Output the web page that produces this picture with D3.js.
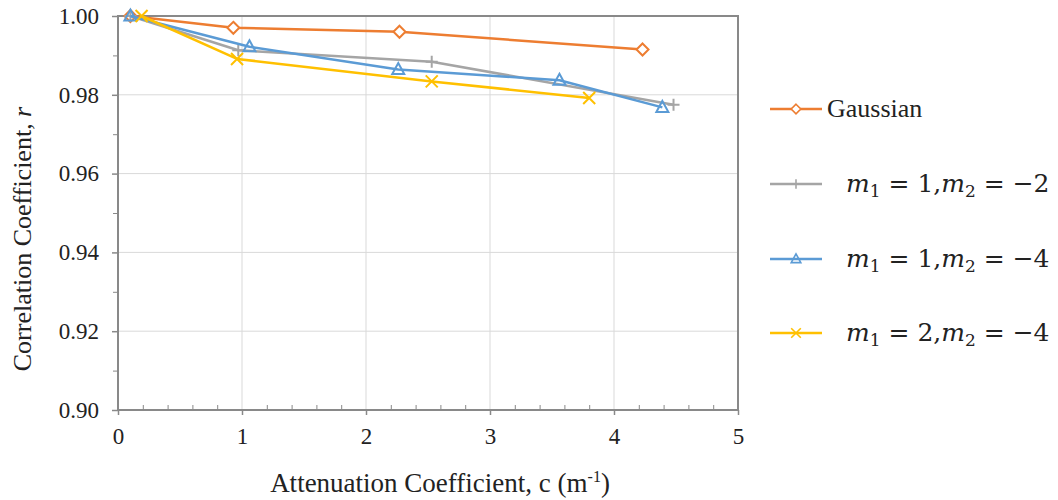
<!DOCTYPE html>
<html>
<head>
<meta charset="utf-8">
<script src="https://cdn.jsdelivr.net/npm/d3@7"></script>
<style>
  body { margin: 0; background: #fff; }
  svg { display: block; }
  text { font-family: "Liberation Serif", "Times New Roman", serif; fill: #222; }
</style>
</head>
<body>
<svg id="chart"></svg>
<script>
// data
var gaussianX = [0.1, 0.93, 2.27, 4.23];
var gaussianY = [1.000, 0.9970, 0.9960, 0.9915];
var m12X = [0.1, 0.97, 2.53, 4.48];
var m12Y = [1.000, 0.9913, 0.9884, 0.9775];
var m14X = [0.1, 1.06, 2.26, 3.56, 4.39];
var m14Y = [1.000, 0.9922, 0.9864, 0.9837, 0.9768];
var m24X = [0.19, 0.96, 2.53, 3.80];
var m24Y = [1.000, 0.9891, 0.9834, 0.9792];

var xTicks = [0, 1, 2, 3, 4, 5];
var yTicks = [0.90, 0.92, 0.94, 0.96, 0.98, 1.00];

var series = [
    {name: "Gaussian", xs: gaussianX, ys: gaussianY, color: "#ED7D31", marker: "diamond", m: null},
    {name: "m1=1,m2=-2", xs: m12X, ys: m12Y, color: "#A5A5A5", marker: "plus", m: ["1", "1", "2", "−2"]},
    {name: "m1=1,m2=-4", xs: m14X, ys: m14Y, color: "#5B9BD5", marker: "triangle", m: ["1", "1", "2", "−4"]},
    {name: "m1=2,m2=-4", xs: m24X, ys: m24Y, color: "#FFC000", marker: "cross", m: ["1", "2", "2", "−4"]}
];

var width = 1058, height = 500;
var svg = d3.select("#chart").attr("width", width).attr("height", height);

var pLeft = 118, pRight = 738, pTop = 16, pBottom = 410;
var x = d3.scaleLinear().domain([0, 5]).range([pLeft, pRight]);
var y = d3.scaleLinear().domain([0.90, 1.00]).range([pBottom, pTop]);

// grid
var grid = svg.append("g");
grid.selectAll(".vg").data(xTicks.slice(1, -1)).enter().append("line")
    .attr("x1", function (d) { return x(d); }).attr("x2", function (d) { return x(d); })
    .attr("y1", pTop).attr("y2", pBottom)
    .attr("stroke", "#d9d9d9").attr("stroke-width", 1);
grid.selectAll(".hg").data(yTicks.slice(1, -1)).enter().append("line")
    .attr("x1", pLeft).attr("x2", pRight)
    .attr("y1", function (d) { return y(d); }).attr("y2", function (d) { return y(d); })
    .attr("stroke", "#d9d9d9").attr("stroke-width", 1);

// frame
svg.append("rect")
    .attr("x", pLeft).attr("y", pTop).attr("width", pRight - pLeft).attr("height", pBottom - pTop)
    .attr("fill", "none").attr("stroke", "#898989").attr("stroke-width", 2);

// x axis: major ticks outward, minor ticks inward
var xAxis = svg.append("g").attr("transform", "translate(0," + pBottom + ")")
    .call(d3.axisBottom(x).tickValues(xTicks).tickFormat(d3.format("d")).tickSize(5).tickPadding(13));
xAxis.select(".domain").remove();
xAxis.selectAll("line").attr("stroke", "#898989").attr("stroke-width", 1.5);
xAxis.selectAll("text").style("font-size", "23px").style("font-family", "Liberation Serif").attr("fill", "#222");

var xMinor = svg.append("g").attr("transform", "translate(0," + pBottom + ")")
    .call(d3.axisTop(x).tickValues(d3.range(0.2, 5, 0.2).filter(function (d) { return Math.abs(d - Math.round(d)) > 0.01; }))
        .tickSize(5).tickFormat(""));
xMinor.select(".domain").remove();
xMinor.selectAll("line").attr("stroke", "#898989").attr("stroke-width", 1);

// y axis
var yAxis = svg.append("g").attr("transform", "translate(" + pLeft + ",0)")
    .call(d3.axisLeft(y).tickValues(yTicks).tickFormat(d3.format(".2f")).tickSize(6).tickPadding(13));
yAxis.select(".domain").remove();
yAxis.selectAll("line").attr("stroke", "#898989").attr("stroke-width", 1.5);
yAxis.selectAll("text").style("font-size", "23px").style("font-family", "Liberation Serif").attr("fill", "#222");

var yMinor = svg.append("g").attr("transform", "translate(" + pLeft + ",0)")
    .call(d3.axisLeft(y).tickValues([0.91, 0.93, 0.95, 0.97, 0.99]).tickSize(5).tickFormat(""));
yMinor.select(".domain").remove();
yMinor.selectAll("line").attr("stroke", "#898989").attr("stroke-width", 1);

// axis titles
svg.append("text")
    .attr("x", (pLeft + pRight) / 2 + 12).attr("y", 492)
    .attr("text-anchor", "middle").style("font-size", "27px")
    .html('Attenuation Coefficient, c (m<tspan dy="-10" font-size="16px">-1</tspan><tspan dy="10">)</tspan>');

svg.append("text")
    .attr("transform", "translate(31,239) rotate(-90)")
    .attr("text-anchor", "middle").style("font-size", "26px")
    .html('Correlation Coefficient, <tspan font-style="italic">r</tspan>');

// markers
function drawMarker(g, type, color) {
    if (type == "diamond") {
        g.append("path").attr("d", "M0,-6L6,0L0,6L-6,0Z")
            .attr("fill", "#fff").attr("stroke", color).attr("stroke-width", 2);
    } else if (type == "triangle") {
        g.append("path").attr("d", "M0,-6.5L6,4.5L-6,4.5Z")
            .attr("fill", "none").attr("stroke", color).attr("stroke-width", 2);
    } else if (type == "plus") {
        g.append("path").attr("d", "M-6,0H6M0,-6V6")
            .attr("stroke", color).attr("stroke-width", 2);
    } else {
        g.append("path").attr("d", "M-6,-6L6,6M6,-6L-6,6")
            .attr("stroke", color).attr("stroke-width", 2);
    }
}

var line = d3.line()
    .x(function (d) { return x(d[0]); })
    .y(function (d) { return y(d[1]); });

series.forEach(function (s) {
    var pts = s.xs.map(function (v, i) { return [v, s.ys[i]]; });
    svg.append("path").datum(pts)
        .attr("d", line)
        .attr("fill", "none").attr("stroke", s.color).attr("stroke-width", 2.5)
        .attr("stroke-linejoin", "round");
    pts.forEach(function (p) {
        var g = svg.append("g").attr("transform", "translate(" + x(p[0]) + "," + y(p[1]) + ")");
        drawMarker(g, s.marker, s.color);
    });
});

// legend
var legendY = [109, 184, 259, 333];
series.forEach(function (s, i) {
    var g = svg.append("g").attr("transform", "translate(770," + legendY[i] + ")");
    g.append("line").attr("x1", 0).attr("x2", 52).attr("y1", 0).attr("y2", 0)
        .attr("stroke", s.color).attr("stroke-width", 2.5);
    var mk = g.append("g").attr("transform", "translate(26,0) scale(0.8)");
    drawMarker(mk, s.marker, s.color);
    if (s.m == null) {
        g.append("text").attr("x", 57).attr("y", 8).style("font-size", "26px").text(s.name);
    } else {
        var t = g.append("text").attr("x", 76).attr("y", 8).style("font-size", "25px")
            .style("font-family", "DejaVu Serif, Liberation Serif, serif");
        t.append("tspan").attr("font-style", "italic").text("m");
        t.append("tspan").attr("font-size", "17px").attr("dy", 5).text(s.m[0]);
        t.append("tspan").attr("dy", -5).text(" = " + s.m[1] + ",");
        t.append("tspan").attr("font-style", "italic").text("m");
        t.append("tspan").attr("font-size", "17px").attr("dy", 5).text(s.m[2]);
        t.append("tspan").attr("dy", -5).text(" = " + s.m[3]);
    }
});
</script>
</body>
</html>
